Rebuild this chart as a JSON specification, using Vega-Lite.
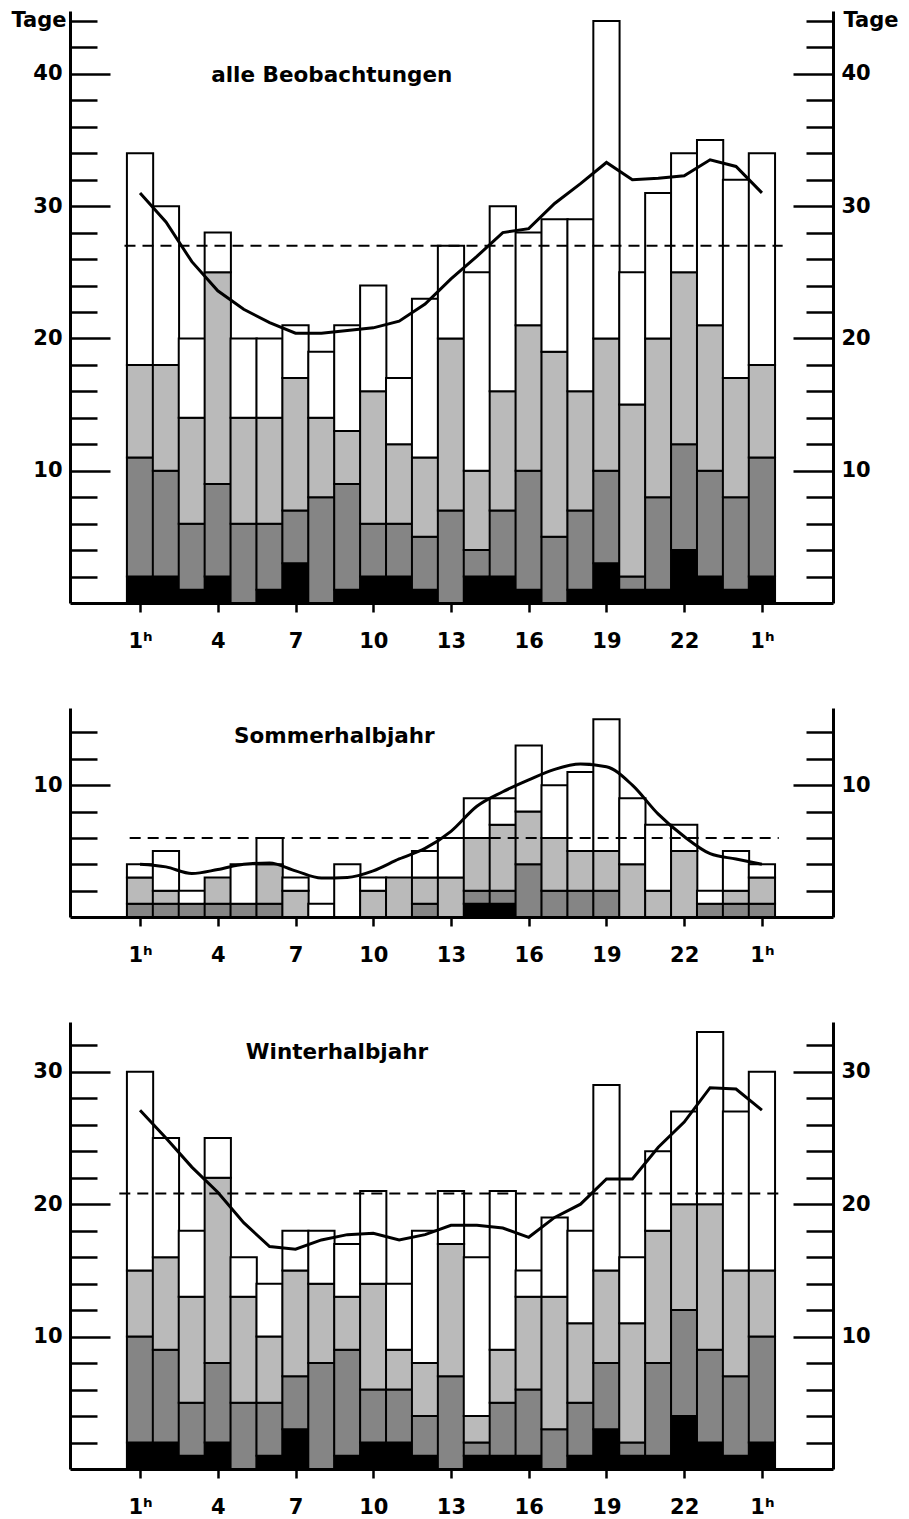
{
  "$schema": "https://vega.github.io/schema/vega-lite/v6.json",
  "padding": {"left": 10, "top": 9, "right": 5, "bottom": 5},
  "spacing": 105,
  "bounds": "flush",
  "config": {
    "view": {"stroke": null},
    "font": "DejaVu Sans",
    "axis": {"grid": false, "domainColor": "black", "domainWidth": 2.5, "tickColor": "black", "tickWidth": 2.5, "labelFont": "DejaVu Sans", "labelFontWeight": "bold", "labelFontSize": 21, "labelColor": "black", "title": null}
  },
  "datasets": {
    "tage": [
      {"p":"A","pos":0,"k1":2,"k2":9,"k3":7,"k4":16,"m":31.0},
      {"p":"A","pos":1,"k1":2,"k2":8,"k3":8,"k4":12,"m":28.8},
      {"p":"A","pos":2,"k1":1,"k2":5,"k3":8,"k4":6,"m":25.8},
      {"p":"A","pos":3,"k1":2,"k2":7,"k3":16,"k4":3,"m":23.6},
      {"p":"A","pos":4,"k1":0,"k2":6,"k3":8,"k4":6,"m":22.2},
      {"p":"A","pos":5,"k1":1,"k2":5,"k3":8,"k4":6,"m":21.2},
      {"p":"A","pos":6,"k1":3,"k2":4,"k3":10,"k4":4,"m":20.4},
      {"p":"A","pos":7,"k1":0,"k2":8,"k3":6,"k4":5,"m":20.4},
      {"p":"A","pos":8,"k1":1,"k2":8,"k3":4,"k4":8,"m":20.6},
      {"p":"A","pos":9,"k1":2,"k2":4,"k3":10,"k4":8,"m":20.8},
      {"p":"A","pos":10,"k1":2,"k2":4,"k3":6,"k4":5,"m":21.3},
      {"p":"A","pos":11,"k1":1,"k2":4,"k3":6,"k4":12,"m":22.6},
      {"p":"A","pos":12,"k1":0,"k2":7,"k3":13,"k4":7,"m":24.5},
      {"p":"A","pos":13,"k1":2,"k2":2,"k3":6,"k4":15,"m":26.2},
      {"p":"A","pos":14,"k1":2,"k2":5,"k3":9,"k4":14,"m":28.0},
      {"p":"A","pos":15,"k1":1,"k2":9,"k3":11,"k4":7,"m":28.3},
      {"p":"A","pos":16,"k1":0,"k2":5,"k3":14,"k4":10,"m":30.2},
      {"p":"A","pos":17,"k1":1,"k2":6,"k3":9,"k4":13,"m":31.7},
      {"p":"A","pos":18,"k1":3,"k2":7,"k3":10,"k4":24,"m":33.3},
      {"p":"A","pos":19,"k1":1,"k2":1,"k3":13,"k4":10,"m":32.0},
      {"p":"A","pos":20,"k1":1,"k2":7,"k3":12,"k4":11,"m":32.1},
      {"p":"A","pos":21,"k1":4,"k2":8,"k3":13,"k4":9,"m":32.3},
      {"p":"A","pos":22,"k1":2,"k2":8,"k3":11,"k4":14,"m":33.5},
      {"p":"A","pos":23,"k1":1,"k2":7,"k3":9,"k4":15,"m":33.0},
      {"p":"A","pos":24,"k1":2,"k2":9,"k3":7,"k4":16,"m":31.0},
      {"p":"S","pos":0,"k1":0,"k2":1,"k3":2,"k4":1,"m":4.0},
      {"p":"S","pos":1,"k1":0,"k2":1,"k3":1,"k4":3,"m":3.8},
      {"p":"S","pos":2,"k1":0,"k2":1,"k3":0,"k4":1,"m":3.3},
      {"p":"S","pos":3,"k1":0,"k2":1,"k3":2,"k4":0,"m":3.6},
      {"p":"S","pos":4,"k1":0,"k2":1,"k3":0,"k4":3,"m":4.0},
      {"p":"S","pos":5,"k1":0,"k2":1,"k3":3,"k4":2,"m":4.1},
      {"p":"S","pos":6,"k1":0,"k2":0,"k3":2,"k4":1,"m":3.5},
      {"p":"S","pos":7,"k1":0,"k2":0,"k3":0,"k4":1,"m":2.95},
      {"p":"S","pos":8,"k1":0,"k2":0,"k3":0,"k4":4,"m":3.0},
      {"p":"S","pos":9,"k1":0,"k2":0,"k3":2,"k4":1,"m":3.5},
      {"p":"S","pos":10,"k1":0,"k2":0,"k3":3,"k4":0,"m":4.4},
      {"p":"S","pos":11,"k1":0,"k2":1,"k3":2,"k4":2,"m":5.2},
      {"p":"S","pos":12,"k1":0,"k2":0,"k3":3,"k4":3,"m":6.5},
      {"p":"S","pos":13,"k1":1,"k2":1,"k3":4,"k4":3,"m":8.4},
      {"p":"S","pos":14,"k1":1,"k2":1,"k3":5,"k4":2,"m":9.5},
      {"p":"S","pos":15,"k1":0,"k2":4,"k3":4,"k4":5,"m":10.4},
      {"p":"S","pos":16,"k1":0,"k2":2,"k3":4,"k4":4,"m":11.2},
      {"p":"S","pos":17,"k1":0,"k2":2,"k3":3,"k4":6,"m":11.6},
      {"p":"S","pos":18,"k1":0,"k2":2,"k3":3,"k4":10,"m":11.4},
      {"p":"S","pos":19,"k1":0,"k2":0,"k3":4,"k4":5,"m":10.0},
      {"p":"S","pos":20,"k1":0,"k2":0,"k3":2,"k4":5,"m":7.8},
      {"p":"S","pos":21,"k1":0,"k2":0,"k3":5,"k4":2,"m":6.1},
      {"p":"S","pos":22,"k1":0,"k2":1,"k3":0,"k4":1,"m":4.8},
      {"p":"S","pos":23,"k1":0,"k2":1,"k3":1,"k4":3,"m":4.4},
      {"p":"S","pos":24,"k1":0,"k2":1,"k3":2,"k4":1,"m":4.0},
      {"p":"W","pos":0,"k1":2,"k2":8,"k3":5,"k4":15,"m":27.1},
      {"p":"W","pos":1,"k1":2,"k2":7,"k3":7,"k4":9,"m":25.0},
      {"p":"W","pos":2,"k1":1,"k2":4,"k3":8,"k4":5,"m":22.8},
      {"p":"W","pos":3,"k1":2,"k2":6,"k3":14,"k4":3,"m":20.9},
      {"p":"W","pos":4,"k1":0,"k2":5,"k3":8,"k4":3,"m":18.6},
      {"p":"W","pos":5,"k1":1,"k2":4,"k3":5,"k4":4,"m":16.8},
      {"p":"W","pos":6,"k1":3,"k2":4,"k3":8,"k4":3,"m":16.6},
      {"p":"W","pos":7,"k1":0,"k2":8,"k3":6,"k4":4,"m":17.3},
      {"p":"W","pos":8,"k1":1,"k2":8,"k3":4,"k4":4,"m":17.7},
      {"p":"W","pos":9,"k1":2,"k2":4,"k3":8,"k4":7,"m":17.8},
      {"p":"W","pos":10,"k1":2,"k2":4,"k3":3,"k4":5,"m":17.3},
      {"p":"W","pos":11,"k1":1,"k2":3,"k3":4,"k4":10,"m":17.7},
      {"p":"W","pos":12,"k1":0,"k2":7,"k3":10,"k4":4,"m":18.4},
      {"p":"W","pos":13,"k1":1,"k2":1,"k3":2,"k4":12,"m":18.4},
      {"p":"W","pos":14,"k1":1,"k2":4,"k3":4,"k4":12,"m":18.2},
      {"p":"W","pos":15,"k1":1,"k2":5,"k3":7,"k4":2,"m":17.5},
      {"p":"W","pos":16,"k1":0,"k2":3,"k3":10,"k4":6,"m":19.0},
      {"p":"W","pos":17,"k1":1,"k2":4,"k3":6,"k4":7,"m":20.0},
      {"p":"W","pos":18,"k1":3,"k2":5,"k3":7,"k4":14,"m":21.9},
      {"p":"W","pos":19,"k1":1,"k2":1,"k3":9,"k4":5,"m":21.9},
      {"p":"W","pos":20,"k1":1,"k2":7,"k3":10,"k4":6,"m":24.3},
      {"p":"W","pos":21,"k1":4,"k2":8,"k3":8,"k4":7,"m":26.2},
      {"p":"W","pos":22,"k1":2,"k2":7,"k3":11,"k4":13,"m":28.8},
      {"p":"W","pos":23,"k1":1,"k2":6,"k3":8,"k4":12,"m":28.7},
      {"p":"W","pos":24,"k1":2,"k2":8,"k3":5,"k4":15,"m":27.1}
    ]
  },
  "vconcat": [
    {
      "width": 763, "height": 592,
      "resolve": {"axis": {"x": "independent", "y": "independent"}},
      "layer": [
        {
          "data": {"name": "tage"},
          "transform": [{"filter": "datum.p === 'A'"}, {"fold": ["k1","k2","k3","k4"]}, {"filter": "datum.value > 0"}],
          "mark": {"type": "bar", "width": 26.25, "stroke": "black", "strokeWidth": 2},
          "encoding": {
            "x": {"field": "pos", "type": "quantitative", "scale": {"domain": [-2.51, 26.55], "nice": false, "zero": false},
                  "axis": {"orient": "bottom", "values": [0,3,6,9,12,15,18,21,24], "tickSize": 9, "labelPadding": 18, "domainWidth": 3, "labelExpr": "datum.value === 0 || datum.value === 24 ? '1ʰ' : '' + (datum.value + 1)"}},
            "y": {"field": "value", "type": "quantitative", "stack": "zero", "scale": {"domain": [0, 44.75], "nice": false},
                  "axis": {"orient": "left", "domainWidth": 3, "values": [2,4,6,8,10,12,14,16,18,20,22,24,26,28,30,32,34,36,38,40,42,44],
                           "tickSize": {"condition": {"test": "datum.value % 10 === 0", "value": -40}, "value": -27},
                           "labelPadding": {"condition": {"test": "datum.value === 44", "value": 31}, "value": 48},
                           "labelExpr": "datum.value === 44 ? 'Tage' : (datum.value % 10 === 0 ? datum.label : '')"}},
            "color": {"field": "key", "type": "nominal", "scale": {"domain": ["k1","k2","k3","k4"], "range": ["#000000","#858585","#bababa","#ffffff"]}, "legend": null},
            "order": {"field": "key", "type": "ordinal"}
          }
        },
        {
          "data": {"name": "tage"},
          "transform": [{"filter": "datum.p === 'A'"}],
          "mark": {"type": "line", "color": "black", "strokeWidth": 3},
          "encoding": {
            "x": {"field": "pos", "type": "quantitative", "axis": null},
            "y": {"field": "m", "type": "quantitative",
                  "axis": {"orient": "right", "domainWidth": 3, "values": [2,4,6,8,10,12,14,16,18,20,22,24,26,28,30,32,34,36,38,40,42,44],
                           "tickSize": {"condition": {"test": "datum.value % 10 === 0", "value": -40}, "value": -27},
                           "labelPadding": {"condition": {"test": "datum.value === 44", "value": 37}, "value": 48},
                           "labelExpr": "datum.value === 44 ? 'Tage' : (datum.value % 10 === 0 ? datum.label : '')"}}
          }
        },
        {
          "data": {"values": [{}]},
          "mark": {"type": "rule", "color": "black", "strokeWidth": 2, "strokeDash": [11, 7]},
          "encoding": {
            "x": {"datum": -0.6, "type": "quantitative", "axis": null},
            "x2": {"datum": 24.8},
            "y": {"datum": 27, "type": "quantitative", "axis": null}
          }
        },
        {
          "data": {"values": [{}]},
          "mark": {"type": "text", "font": "DejaVu Sans", "fontSize": 21.5, "fontWeight": "bold", "align": "center", "baseline": "middle", "color": "black"},
          "encoding": {
            "x": {"datum": 7.4, "type": "quantitative", "axis": null},
            "y": {"datum": 39.8, "type": "quantitative", "axis": null},
            "text": {"value": "alle Beobachtungen"}
          }
        }
      ]
    },
    {
      "width": 763, "height": 209,
      "resolve": {"axis": {"x": "independent", "y": "independent"}},
      "layer": [
        {
          "data": {"name": "tage"},
          "transform": [{"filter": "datum.p === 'S'"}, {"fold": ["k1","k2","k3","k4"]}, {"filter": "datum.value > 0"}],
          "mark": {"type": "bar", "width": 26.25, "stroke": "black", "strokeWidth": 2},
          "encoding": {
            "x": {"field": "pos", "type": "quantitative", "scale": {"domain": [-2.51, 26.55], "nice": false, "zero": false},
                  "axis": {"orient": "bottom", "values": [0,3,6,9,12,15,18,21,24], "tickSize": 9, "labelPadding": 18, "domainWidth": 3, "labelExpr": "datum.value === 0 || datum.value === 24 ? '1ʰ' : '' + (datum.value + 1)"}},
            "y": {"field": "value", "type": "quantitative", "stack": "zero", "scale": {"domain": [0, 15.85], "nice": false},
                  "axis": {"orient": "left", "domainWidth": 3, "values": [2,4,6,8,10,12,14],
                           "tickSize": {"condition": {"test": "datum.value % 10 === 0", "value": -40}, "value": -27},
                           "labelPadding": 48,
                           "labelExpr": "datum.value % 10 === 0 ? datum.label : ''"}},
            "color": {"field": "key", "type": "nominal", "scale": {"domain": ["k1","k2","k3","k4"], "range": ["#000000","#858585","#bababa","#ffffff"]}, "legend": null},
            "order": {"field": "key", "type": "ordinal"}
          }
        },
        {
          "data": {"name": "tage"},
          "transform": [{"filter": "datum.p === 'S'"}],
          "mark": {"type": "line", "color": "black", "strokeWidth": 3, "interpolate": "monotone"},
          "encoding": {
            "x": {"field": "pos", "type": "quantitative", "axis": null},
            "y": {"field": "m", "type": "quantitative",
                  "axis": {"orient": "right", "domainWidth": 3, "values": [2,4,6,8,10,12,14],
                           "tickSize": {"condition": {"test": "datum.value % 10 === 0", "value": -40}, "value": -27},
                           "labelPadding": 48,
                           "labelExpr": "datum.value % 10 === 0 ? datum.label : ''"}}
          }
        },
        {
          "data": {"values": [{}]},
          "mark": {"type": "rule", "color": "black", "strokeWidth": 2, "strokeDash": [11, 7]},
          "encoding": {
            "x": {"datum": -0.4, "type": "quantitative", "axis": null},
            "x2": {"datum": 24.65},
            "y": {"datum": 6, "type": "quantitative", "axis": null}
          }
        },
        {
          "data": {"values": [{}]},
          "mark": {"type": "text", "font": "DejaVu Sans", "fontSize": 21.5, "fontWeight": "bold", "align": "center", "baseline": "middle", "color": "black"},
          "encoding": {
            "x": {"datum": 7.5, "type": "quantitative", "axis": null},
            "y": {"datum": 13.65, "type": "quantitative", "axis": null},
            "text": {"value": "Sommerhalbjahr"}
          }
        }
      ]
    },
    {
      "width": 763, "height": 447,
      "resolve": {"axis": {"x": "independent", "y": "independent"}},
      "layer": [
        {
          "data": {"name": "tage"},
          "transform": [{"filter": "datum.p === 'W'"}, {"fold": ["k1","k2","k3","k4"]}, {"filter": "datum.value > 0"}],
          "mark": {"type": "bar", "width": 26.25, "stroke": "black", "strokeWidth": 2},
          "encoding": {
            "x": {"field": "pos", "type": "quantitative", "scale": {"domain": [-2.51, 26.55], "nice": false, "zero": false},
                  "axis": {"orient": "bottom", "values": [0,3,6,9,12,15,18,21,24], "tickSize": 9, "labelPadding": 18, "domainWidth": 3, "labelExpr": "datum.value === 0 || datum.value === 24 ? '1ʰ' : '' + (datum.value + 1)"}},
            "y": {"field": "value", "type": "quantitative", "stack": "zero", "scale": {"domain": [0, 33.76], "nice": false},
                  "axis": {"orient": "left", "domainWidth": 3, "values": [2,4,6,8,10,12,14,16,18,20,22,24,26,28,30,32],
                           "tickSize": {"condition": {"test": "datum.value % 10 === 0", "value": -40}, "value": -27},
                           "labelPadding": 48,
                           "labelExpr": "datum.value % 10 === 0 ? datum.label : ''"}},
            "color": {"field": "key", "type": "nominal", "scale": {"domain": ["k1","k2","k3","k4"], "range": ["#000000","#858585","#bababa","#ffffff"]}, "legend": null},
            "order": {"field": "key", "type": "ordinal"}
          }
        },
        {
          "data": {"name": "tage"},
          "transform": [{"filter": "datum.p === 'W'"}],
          "mark": {"type": "line", "color": "black", "strokeWidth": 3},
          "encoding": {
            "x": {"field": "pos", "type": "quantitative", "axis": null},
            "y": {"field": "m", "type": "quantitative",
                  "axis": {"orient": "right", "domainWidth": 3, "values": [2,4,6,8,10,12,14,16,18,20,22,24,26,28,30,32],
                           "tickSize": {"condition": {"test": "datum.value % 10 === 0", "value": -40}, "value": -27},
                           "labelPadding": 48,
                           "labelExpr": "datum.value % 10 === 0 ? datum.label : ''"}}
          }
        },
        {
          "data": {"values": [{}]},
          "mark": {"type": "rule", "color": "black", "strokeWidth": 2, "strokeDash": [11, 7]},
          "encoding": {
            "x": {"datum": -0.8, "type": "quantitative", "axis": null},
            "x2": {"datum": 24.8},
            "y": {"datum": 20.8, "type": "quantitative", "axis": null}
          }
        },
        {
          "data": {"values": [{}]},
          "mark": {"type": "text", "font": "DejaVu Sans", "fontSize": 21.5, "fontWeight": "bold", "align": "center", "baseline": "middle", "color": "black"},
          "encoding": {
            "x": {"datum": 7.6, "type": "quantitative", "axis": null},
            "y": {"datum": 31.4, "type": "quantitative", "axis": null},
            "text": {"value": "Winterhalbjahr"}
          }
        }
      ]
    }
  ]
}
